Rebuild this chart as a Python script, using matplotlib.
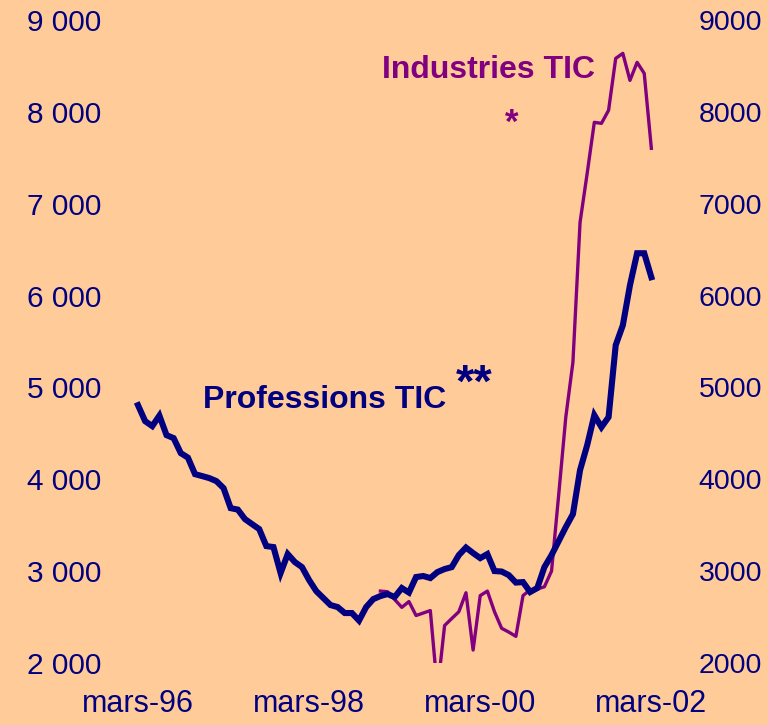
import numpy as np
import matplotlib
matplotlib.use('Agg')  # pas de fenetre
import matplotlib.pyplot as plt

# Valeurs mensuelles, de mars-96 a mars-02
professions = [
    4807, 4633, 4579, 4693, 4481, 4448, 4285, 4236, 4056, 4035,
    4013, 3980, 3904, 3686, 3670, 3567, 3512, 3458, 3273, 3262,
    2979, 3186, 3099, 3044, 2903, 2783, 2707, 2631, 2609, 2544,
    2544, 2462, 2609, 2696, 2729, 2751, 2718, 2816, 2767, 2936,
    2947, 2925, 2990, 3023, 3044, 3175, 3257, 3197, 3142, 3186,
    3001, 2996, 2957, 2876, 2881, 2773, 2816, 3044, 3175, 3327,
    3480, 3621, 4100, 4372, 4698, 4568, 4677, 5460, 5677, 6113,
    6461, 6461, 6200,
]

# Industries TIC : commence en janvier 99 (mois 34)
industries_start = 34
industries = [
    2783, 2776, 2691, 2606, 2669, 2517, 2544, 2571, 1700, 2408,
    2484, 2558, 2765, 2141, 2734, 2783, 2558, 2378, 2337, 2290,
    2734, 2797, 2805, 2830, 3001, 3828, 4676, 5275, 6798, 7331,
    7886, 7875, 8017, 8582, 8637, 8343, 8539, 8419, 7603,
]

x_ticks = [0, 24, 48, 72]
x_labels = ['mars-96', 'mars-98', 'mars-00', 'mars-02']
y_ticks = [2000, 3000, 4000, 5000, 6000, 7000, 8000, 9000]

bg = '#FFCC99'
navy = '#000080'
purple = '#800080'

plt.rcParams['font.family'] = ['Liberation Sans', 'DejaVu Sans']

fig = plt.figure(figsize=(7.68, 7.25), dpi=100, facecolor=bg)
ax = fig.add_axes([0.1704, 0.0855, 0.687, 0.8869])
ax.set_facecolor(bg)

months = np.arange(len(professions))
ax.plot(months, professions, color=navy, lw=4.4, solid_joinstyle='miter', zorder=3)

ind_months = np.arange(industries_start, industries_start + len(industries))
ax.plot(ind_months, industries, color=purple, lw=2.4, zorder=2)

ax.set_xlim(-1, 73)
ax.set_ylim(2000, 9000)

ax.set_xticks(x_ticks)
ax.set_xticklabels(x_labels)
ax.set_yticks(y_ticks)
ax.set_yticklabels([f'{v // 1000} 000' for v in y_ticks])

for s in ax.spines.values():
    s.set_visible(False)
ax.tick_params(axis='both', length=0, colors=navy)
ax.tick_params(axis='y', labelsize=21.5, pad=21)
ax.tick_params(axis='x', labelsize=22, pad=19)

# axe de droite, meme echelle
ax2 = ax.twinx()
ax2.set_ylim(2000, 9000)
ax2.set_yticks(y_ticks)
ax2.set_yticklabels([str(v) for v in y_ticks])
for s in ax2.spines.values():
    s.set_visible(False)
ax2.tick_params(axis='y', length=0, labelsize=20.5, colors=navy, pad=29)

# etiquettes des series
ax.text(26.2, 4867, 'Professions TIC', color=navy, fontsize=23,
        fontweight='bold', va='center', ha='center')
ax.text(47.1, 5030, '**', color=navy, fontsize=34,
        fontweight='bold', va='center', ha='center')
ax.text(49.1, 8452, 'Industries TIC', color=purple, fontsize=23,
        fontweight='bold', va='center', ha='center')
ax.text(52.4, 7880, '*', color=purple, fontsize=25,
        fontweight='bold', va='center', ha='center')

plt.savefig('out.png', dpi=100, facecolor=bg)
